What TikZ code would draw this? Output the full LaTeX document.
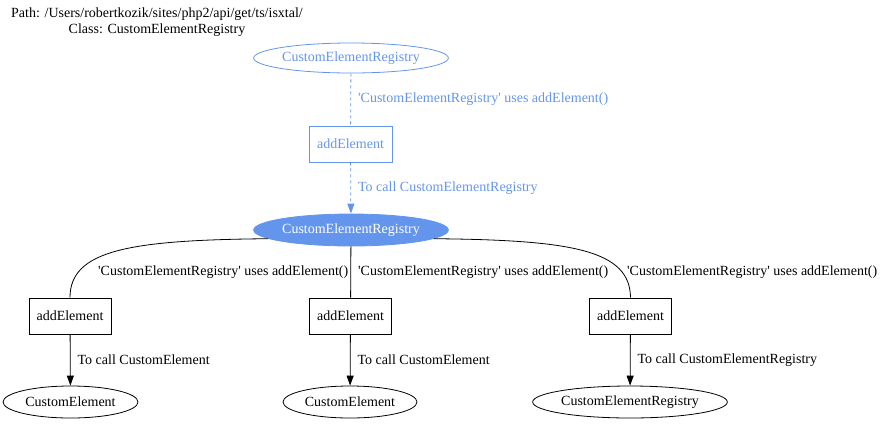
\documentclass[tikz,border=0pt]{standalone}
\usepackage{fontspec}
\setmainfont{Liberation Serif}
\usepackage{xcolor}
\usetikzlibrary{positioning,shapes.geometric,arrows.meta}
\definecolor{cfblue}{RGB}{100,149,237}
\newcommand{\usestext}{\textquotesingle CustomElementRegistry\textquotesingle{} uses addElement()}
\tikzset{
    classnode/.style={ellipse, draw, thick, minimum width=134pt, minimum height=32pt, inner sep=0pt, font=\fontsize{14}{16}\selectfont},
    methodnode/.style={rectangle, draw, thick, minimum width=82pt, minimum height=36pt, inner sep=0pt, font=\fontsize{14}{16}\selectfont},
    elabel/.style={font=\fontsize{14}{16}\selectfont, inner sep=0pt}
}

\begin{document}
\begin{tikzpicture}[
        x=1pt, y=-1pt,
        link/.style={draw, thick},
        call/.style={draw, thick, -{Triangle[length=10pt, width=7pt]}}
    ]
    \useasboundingbox (0,0) rectangle (881,424);
    % --- Tiêu đề ---
    \node[elabel, align=center] (title) at (157, 22) {Path: /Users/robertkozik/sites/php2/api/get/ts/isxtal/\\Class: CustomElementRegistry};
    % --- Phần trên (màu xanh) ---
    \node[classnode, draw=cfblue, text=cfblue, minimum width=192pt, minimum height=30pt] (R0) at (351, 58) {CustomElementRegistry};
    \node[methodnode, draw=cfblue, text=cfblue, minimum width=83pt] (M0) at (350.5, 144) {addElement};
    \node[classnode, fill=cfblue, draw=cfblue, text=white, minimum width=192pt] (R1) at (351, 230) {CustomElementRegistry};
    \draw[link, draw=cfblue, dashed] (R0) -- (M0) node[elabel, midway, right=7pt, text=cfblue] {\usestext};
    \draw[call, draw=cfblue, dashed] (M0) -- (R1) node[elabel, midway, right=7pt, text=cfblue] {To call CustomElementRegistry};
    % --- Ba phương thức ---
    \node[methodnode] (M1) at (70, 316) {addElement};
    \node[methodnode] (M2) at (350.5, 316) {addElement};
    \node[methodnode] (M3) at (630.5, 316) {addElement};
    \draw[link] (R1.186) .. controls (130, 240) and (70, 250) .. (M1.north);
    \draw[link] (R1) -- (M2);
    \draw[link] (R1.354) .. controls (572, 240) and (630, 250) .. (M3.north);
    \node[elabel, anchor=west] (L1) at (98, 272) {\usestext};
    \node[elabel, anchor=west] (L2) at (358, 272) {\usestext};
    \node[elabel, anchor=west] (L3) at (627, 272) {\usestext};
    % --- Các lớp được gọi ---
    \node[classnode, minimum width=135pt] (C1) at (70.5, 402) {CustomElement};
    \node[classnode, minimum width=134pt] (C2) at (350, 402) {CustomElement};
    \node[classnode, minimum width=194pt] (C3) at (630, 402) {CustomElementRegistry};
    \draw[call] (M1) -- (C1) node[elabel, midway, right=7pt] {To call CustomElement};
    \draw[call] (M2) -- (C2) node[elabel, midway, right=7pt] {To call CustomElement};
    \draw[call] (M3) -- (C3) node[elabel, midway, right=7pt] {To call CustomElementRegistry};
\end{tikzpicture}
\end{document}
